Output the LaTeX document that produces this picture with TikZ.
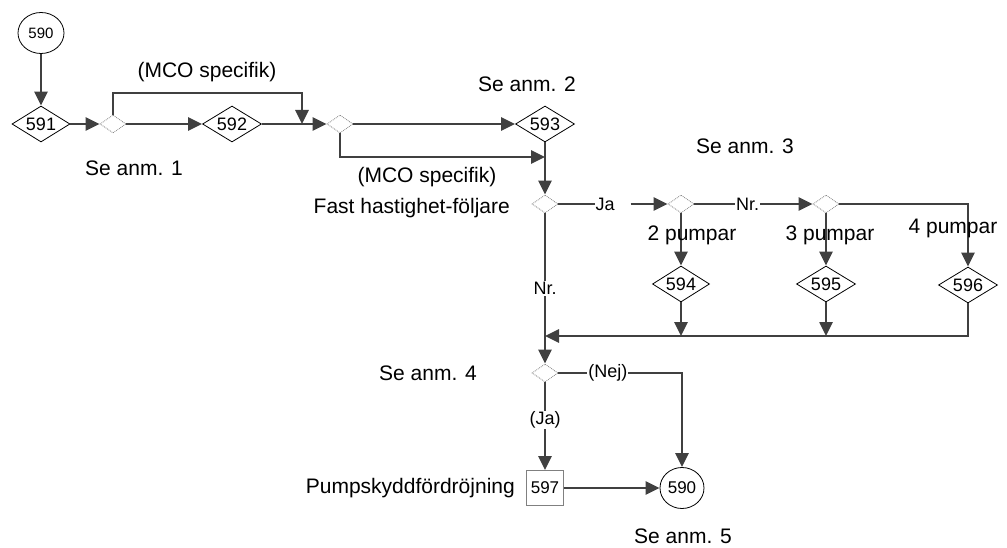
\documentclass[tikz,border=0pt]{standalone}
\usepackage{fontspec}
\setmainfont{Liberation Sans}
\usetikzlibrary{shapes.geometric,arrows.meta}
\definecolor{ln}{HTML}{404040}
\tikzset{
  conn/.style={draw=ln, line width=2.6pt},
  arr/.style={conn, -{Triangle[length=14pt,width=13pt]}},
  dia/.style={diamond, draw=black, line width=0.8pt, inner sep=0pt, minimum width=#1, minimum height=36pt, aspect=1.6, font=\fontsize{18}{20}\selectfont},
  sdia/.style={diamond, draw=gray, densely dotted, line width=0.8pt, inner sep=0pt, minimum width=26pt, minimum height=18pt},
  circ/.style={ellipse, draw=black, line width=0.8pt, inner sep=0pt, minimum width=#1, minimum height=41pt},
  big/.style={font=\fontsize{21}{24}\selectfont, inner sep=0pt},
  lbl/.style={font=\fontsize{18}{20}\selectfont, inner sep=1pt, fill=white},
}
\begin{document}
\begin{tikzpicture}[x=1pt,y=-1pt]
\useasboundingbox (0,0) rectangle (1007,548);
% nodes
\node[circ=46pt, font=\fontsize{15}{17}\selectfont] (c1) at (41,33) {590};
\node[dia=58pt] (d591) at (41,124) {591};
\node[sdia] (s1) at (113,124) {};
\node[dia=59pt] (d592) at (232,124) {592};
\node[sdia] (s2) at (340,124) {};
\node[dia=59pt] (d593) at (545,124) {593};
\node[sdia] (s3) at (545,204) {};
\node[sdia] (s4) at (681,204) {};
\node[sdia] (s5) at (826,204) {};
\node[dia=57pt] (d594) at (681,284) {594};
\node[dia=59pt] (d595) at (826,284) {595};
\node[dia=59pt] (d596) at (968,285) {596};
\node[sdia] (s6) at (545,373) {};
\node[draw=gray, line width=0.8pt, minimum width=37pt, minimum height=35pt, inner sep=0pt, font=\fontsize{17}{19}\selectfont] (b597) at (545,488) {597};
\node[circ=44pt, font=\fontsize{17}{19}\selectfont] (c2) at (682,488) {590};
% coordinates
\coordinate (j1) at (302,124);
\coordinate (j2) at (545,157);
\coordinate (b594) at (681,336);
\coordinate (b595) at (826,336);
\coordinate (jb) at (545,336);
% connectors
\draw[arr] (c1.south) -- (d591.north);
\draw[arr] (d591.east) -- (s1.west);
\draw[arr] (s1.east) -- (d592.west);
\draw[arr] (s1.north) |- (302,93) -- (j1);
\draw[arr] (d592.east) -- (s2.west);
\draw[arr] (s2.east) -- (d593.west);
\draw[arr] (s2.south) |- (j2);
\draw[arr] (d593.south) -- (s3.north);
\node[lbl, fill=none, inner sep=0pt] (lja) at (605,204) {Ja};
\draw[conn] (s3.east) -- (lja.west);
\draw[arr] ([xshift=16pt]lja.east) -- (s4.west);
\draw[arr] (s4.east) -- node[lbl, pos=0.45] {Nr.} (s5.west);
\draw[arr] (s5.east) -| (d596.north);
\draw[arr] (s4.south) -- (d594.north);
\draw[arr] (s5.south) -- (d595.north);
\draw[arr] (d594.south) -- (b594);
\draw[arr] (d595.south) -- (b595);
\draw[arr] (d596.south) |- (jb);
\draw[arr] (s3.south) -- node[lbl, pos=0.5] {Nr.} (s6.north);
\draw[arr] (s6.east) -| node[lbl, pos=0.2] {(Nej)} (c2.north);
\draw[arr] (s6.south) -- node[lbl, pos=0.43] {(Ja)} (b597.north);
\draw[arr] (b597.east) -- (c2.west);
% labels
\node[big] (t1) at (207,72) {(MCO specifik)};
\node[big] (t2) at (134,168) {Se anm. 1};
\node[big] (t3) at (527,84) {Se anm. 2};
\node[big] (t4) at (427,177) {(MCO specifik)};
\node[big, anchor=east] (t5) at (510,208) {Fast hastighet-följare};
\node[big] (t6) at (745,146) {Se anm. 3};
\node[big] (t7) at (692,235) {2 pumpar};
\node[big] (t8) at (830,235) {3 pumpar};
\node[big] (t9) at (953,228) {4 pumpar};
\node[big] (t10) at (428,373) {Se anm. 4};
\node[big, anchor=east] (t11) at (515,488) {Pumpskyddfördröjning};
\node[big] (t12) at (683,536) {Se anm. 5};
\end{tikzpicture}
\end{document}
